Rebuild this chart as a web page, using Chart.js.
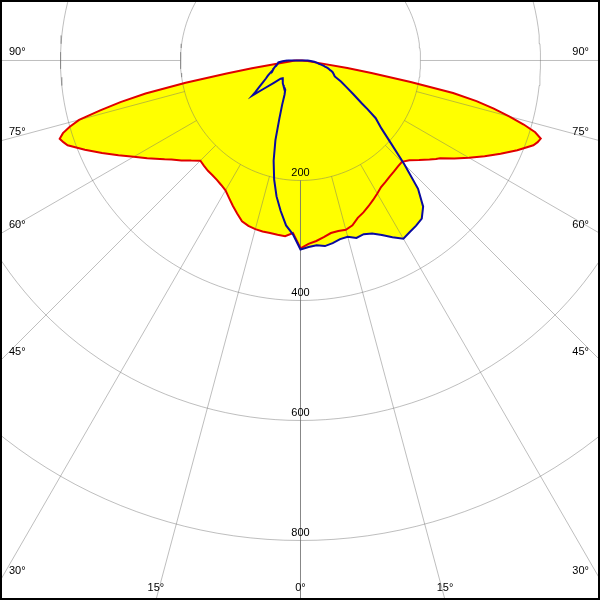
<!DOCTYPE html>
<html>
<head>
<meta charset="utf-8">
<script src="https://cdn.jsdelivr.net/npm/chart.js@4/dist/chart.umd.min.js"></script>
<style>
  body { margin: 0; background: #fff; }
</style>
</head>
<body>
<canvas id="chart" width="600" height="600"></canvas>
<script>
// gamma angles (deg from nadir) shared by all four half-planes
const angles = [0, 2.5, 5, 7.5, 10, 12.5, 15, 17.5, 20, 22.5, 25, 27.5, 30, 32.5, 35, 37.5, 40, 42.5, 45, 47.5,
  50, 52.5, 54, 55, 57.5, 60, 62.5, 65, 67.5, 70, 71, 72, 73, 74, 75, 76, 77, 78, 79, 80, 81, 82.5, 85, 87.5, 90];

// red: C0 (right) / C180 (left), cd
const redC0 = [313, 306, 302, 297, 292, 291, 292, 288, 279, 274, 268, 262, 256, 250, 247, 244, 242, 240, 239, 246,
  258, 271, 279, 284, 304, 324, 346, 368, 391, 413, 418, 421, 409, 387, 360, 332, 301, 260, 187, 120, 79, 27, 12, 6, 3];
const redC180 = [313, 288, 294, 293, 292, 292, 291, 289, 285, 276, 267, 258, 250, 246, 243, 241, 240, 238, 236, 247,
  259, 271, 280, 286, 303, 321, 342, 365, 389, 413, 418, 422, 414, 400, 382, 344, 308, 264, 195, 125, 82, 35, 18, 12, 8];

// blue: C90 (right) / C270 (left), cd
const blueC90 = [315, 311, 309, 312, 309, 305, 304, 310, 308, 312, 321, 332, 343, 339, 336, 332, 318, 290, 245, 205,
  176, 158, 138, 125, 104, 88, 76, 63, 60, 57, 55, 52, 50, 48, 45, 42, 40, 37, 34, 31, 29, 27, 23, 17, 12];
const blueC270 = [315, 290, 276, 253, 230, 203, 173, 139, 103, 80, 63, 55, 53, 52, 50, 48, 46, 44, 42, 45,
  58, 78, 99, 92, 81, 72, 65, 60, 55, 50, 49, 48, 47, 46, 45, 44, 43, 42, 41, 40, 39, 38, 37, 30, 22];

// grid
const rings = [200, 400, 600, 800];
const spokes = [-90, -75, -60, -45, -30, -15, 0, 15, 30, 45, 60, 75, 90];

const rad = d => d * Math.PI / 180;
const polar = (r, deg) => ({ x: r * Math.sin(rad(deg)), y: -r * Math.cos(rad(deg)) });

function closedCurve(left, right) {
  const pts = [];
  for (let i = angles.length - 1; i >= 0; i--) pts.push(polar(left[i], -angles[i]));
  for (let i = 0; i < angles.length; i++) pts.push(polar(right[i], angles[i]));
  pts.push(pts[0]);
  return pts;
}

const gridColor = "rgba(110,110,110,0.45)";
const datasets = [];

rings.forEach(r => {
  const pts = [];
  for (let a = -180; a <= 180; a += 2) pts.push(polar(r, a));
  datasets.push({ data: pts, borderColor: gridColor, borderWidth: 1, order: 3 });
});
spokes.forEach(a => {
  datasets.push({ data: [polar(200, a), polar(1300, a)], borderColor: gridColor, borderWidth: 1, order: 3 });
});

datasets.push({
  data: closedCurve(redC180, redC0),
  borderColor: "#e00000", borderWidth: 2, backgroundColor: "#ffff00", fill: "shape", order: 2
});
datasets.push({
  data: closedCurve(blueC270, blueC90),
  borderColor: "#0a0aa0", borderWidth: 2, backgroundColor: "#ffff00", fill: "shape", order: 1
});

// labels + frame
const labelPlugin = {
  id: "polarLabels",
  afterDraw(chart) {
    const { ctx, scales: { x, y } } = chart;
    ctx.save();
    ctx.font = '11px "Liberation Sans", Arial, sans-serif';
    ctx.fillStyle = "#000";
    ctx.textBaseline = "bottom";

    ctx.textAlign = "center";
    rings.forEach(r => ctx.fillText(String(r), x.getPixelForValue(0), y.getPixelForValue(-r) - 2));

    spokes.forEach(a => {
      const t = Math.abs(a);
      const txt = t + "°";
      const sideY = t === 90 ? 0 : -x.max / Math.tan(rad(t));
      if (sideY >= y.min) {
        const py = y.getPixelForValue(sideY) - 3;
        if (a < 0) { ctx.textAlign = "left"; ctx.fillText(txt, 9, py); }
        else { ctx.textAlign = "right"; ctx.fillText(txt, chart.width - 11, py); }
      } else {
        ctx.textAlign = "center";
        const px = x.getPixelForValue(-y.min * Math.tan(rad(a)));
        ctx.fillText(txt, px, chart.height - 7);
      }
    });

    ctx.strokeStyle = "#000";
    ctx.lineWidth = 2;
    ctx.strokeRect(1, 1, chart.width - 2, chart.height - 2);
    ctx.restore();
  }
};

new Chart(document.getElementById("chart"), {
  type: "scatter",
  data: { datasets },
  options: {
    responsive: false,
    animation: false,
    showLine: true,
    layout: { padding: 0 },
    elements: { point: { radius: 0, hoverRadius: 0 }, line: { tension: 0 } },
    scales: {
      // centre sits on pixel (300.5, 60.5) so the axis lines stay crisp
      x: { type: "linear", min: -500.833, max: 499.167, display: false },
      y: { type: "linear", min: -899.167, max: 100.833, display: false }
    },
    plugins: {
      legend: { display: false },
      tooltip: { enabled: false },
      filler: { drawTime: "beforeDatasetsDraw" }
    }
  },
  plugins: [labelPlugin]
});
</script>
</body>
</html>
